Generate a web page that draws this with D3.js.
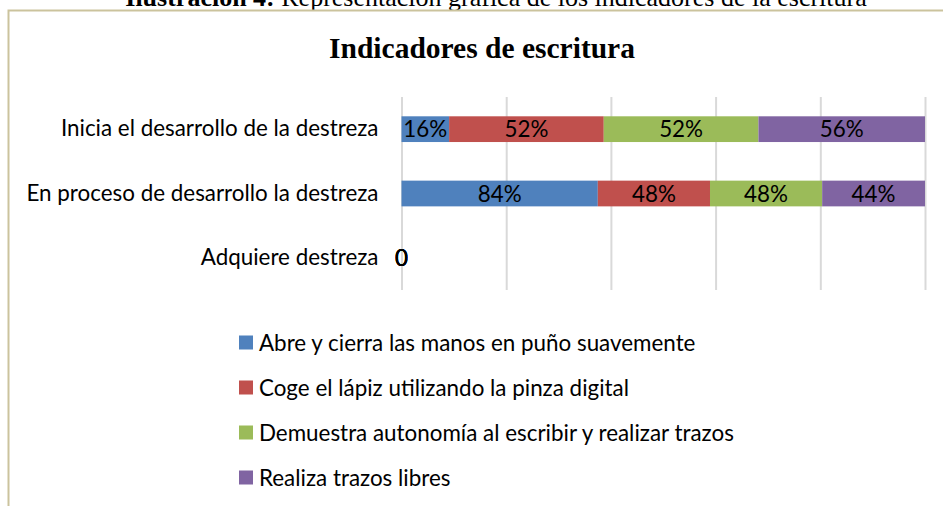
<!DOCTYPE html>
<html>
<head>
<meta charset="utf-8">
<script src="https://cdn.jsdelivr.net/npm/d3@7"></script>
<style>
  html, body { margin: 0; padding: 0; background: #fff; }
  svg { display: block; }
</style>
</head>
<body>
<svg id="chart" width="943" height="506"></svg>
<script>
// ---- data ----
const categories = [
  "Inicia el desarrollo de la destreza",
  "En proceso de desarrollo la destreza",
  "Adquiere destreza"
];
const seriesNames = [
  "Abre y cierra las manos en puño suavemente",
  "Coge el lápiz utilizando la pinza digital",
  "Demuestra autonomía al escribir y realizar trazos",
  "Realiza trazos libres"
];
const abreValues      = [16, 84, 0];
const cogeValues      = [52, 48, 0];
const demuestraValues = [52, 48, 0];
const realizaValues   = [56, 44, 0];
const seriesColors = ["#4F81BD", "#C0504D", "#9BBB59", "#8064A2"];
const xTicks = [0, 0.2, 0.4, 0.6, 0.8, 1];
const chartTitle = "Indicadores de escritura";
const captionBold = "Ilustración 4:";
const captionRest = " Representación gráfica de los indicadores de la escritura";

// ---- build table ----
const seriesValues = [abreValues, cogeValues, demuestraValues, realizaValues];
const table = categories.map((c, i) => {
  const row = { cat: c };
  seriesNames.forEach((s, k) => { row[s] = seriesValues[k][i]; });
  return row;
});

const svg = d3.select("#chart");
const sans = "Lato, 'Open Sans', sans-serif";
const serif = "'Liberation Serif', 'Times New Roman', serif";
const fs = 22.4;

// caption (cut at top, as in the reference)
svg.append("text")
  .attr("x", 496).attr("y", 6)
  .attr("text-anchor", "middle")
  .attr("font-family", serif).attr("font-size", 26)
  .call(t => {
    t.append("tspan").attr("font-weight", "bold").text(captionBold);
    t.append("tspan").text(captionRest);
  });

// chart border
svg.append("path")
  .attr("d", "M8.5,506 L8.5,10.5 L943,10.5")
  .attr("fill", "none").attr("stroke", "#CBC39D").attr("stroke-width", 2);

// title
svg.append("text")
  .attr("x", 482).attr("y", 58)
  .attr("text-anchor", "middle")
  .attr("font-family", serif).attr("font-weight", "bold").attr("font-size", 29.5)
  .text(chartTitle);

// scales
const x = d3.scaleLinear().domain([0, 1]).range([401.5, 925]);
const y = d3.scaleBand().domain(categories).range([97, 290]).paddingInner(0.6).paddingOuter(0.3);

// gridlines
const gx = svg.append("g").attr("transform", "translate(0,290)")
  .call(d3.axisBottom(x).tickValues(xTicks).tickSize(-193).tickFormat(""));
gx.select(".domain").remove();
gx.selectAll(".tick line").attr("stroke", "#D9D9D9").attr("stroke-width", 2);

// category axis
const gy = svg.append("g").attr("transform", "translate(401.5,0)")
  .call(d3.axisLeft(y).tickSize(0).tickPadding(23));
gy.select(".domain").remove();
gy.selectAll(".tick text")
  .attr("font-family", sans).attr("font-size", fs).attr("fill", "#000");

// stacked bars
const stack = d3.stack().keys(seriesNames).offset(d3.stackOffsetExpand);
const stacked = stack(table);

const layers = svg.append("g").selectAll("g").data(stacked).join("g")
  .attr("fill", (d, i) => seriesColors[i]);
layers.selectAll("rect").data(d => d).join("rect")
  .attr("x", d => x(d[0]))
  .attr("y", d => y(d.data.cat))
  .attr("width", d => Math.max(0, x(d[1]) - x(d[0])))
  .attr("height", y.bandwidth());

// data labels
const labels = svg.append("g");
stacked.forEach((layer, k) => {
  labels.selectAll(null).data(layer).join("text")
    .attr("x", d => (x(d[0]) + x(d[1])) / 2)
    .attr("y", d => y(d.data.cat) + y.bandwidth() / 2 + 8)
    .attr("text-anchor", "middle")
    .attr("font-family", sans).attr("font-size", fs).attr("fill", "#000")
    .text(d => {
      const v = d.data[seriesNames[k]];
      return v === 0 ? "0" : v + "%";
    });
});

// legend
const legend = svg.append("g");
const legendY = d3.scalePoint().domain(seriesNames).range([342.5, 477.5]);
seriesNames.forEach((s, i) => {
  legend.append("rect")
    .attr("x", 239).attr("y", legendY(s) - 7)
    .attr("width", 14).attr("height", 14)
    .attr("fill", seriesColors[i]);
  legend.append("text")
    .attr("x", 259).attr("y", legendY(s) + 8)
    .attr("font-family", sans).attr("font-size", fs).attr("fill", "#000")
    .text(s);
});
</script>
</body>
</html>
